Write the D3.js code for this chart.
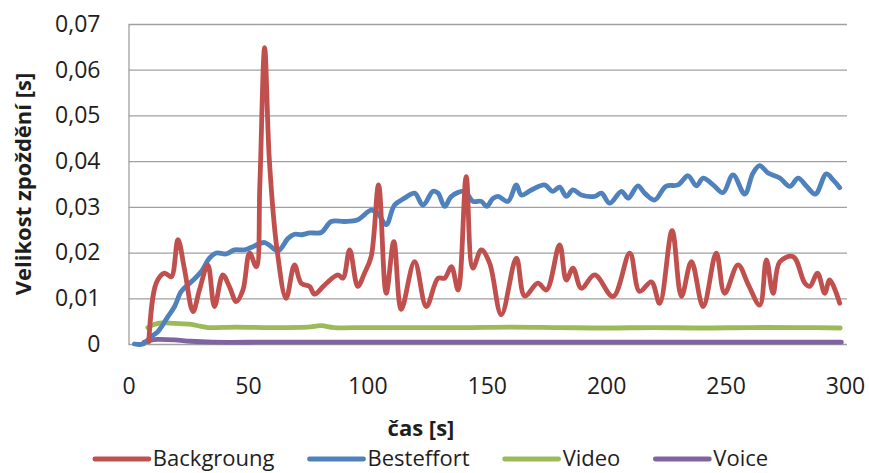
<!DOCTYPE html>
<html>
<head>
<meta charset="utf-8">
<script src="https://cdn.jsdelivr.net/npm/d3@7"></script>
<style>
    body { margin: 0; background: #fff; }
</style>
</head>
<body>
<div id="chart"></div>

<script>

    // Backgroung
    var bgTime = [8.5, 11.6, 15.1, 17.9, 20.7, 23.5, 27, 29.7, 33.2, 36, 39.5, 42.3, 45.1, 47.9, 50.7, 53.5, 55, 57, 59, 62.2,
        66, 69.5, 72.3, 75.8, 77.9, 82.1, 87.7, 89.8, 92.6, 96, 98.8, 101.6, 104.7, 107.9, 111.1, 114.2, 119.8, 124.7, 129.6, 132.4,
        135.2, 138, 141.4, 144.2, 147.7, 151.2, 156.1, 162.4, 165.9, 171.4, 175, 180.5, 183.3, 186.1, 189.6, 195.2, 202.9, 209.9, 214, 218.9,
        222.4, 227.6, 231.5, 235.7, 240.6, 246.1, 249.6, 255.2, 259.5, 264.3, 267.1, 269.9, 272.7, 278.3, 283.2, 285.3, 288.5, 291.5, 293.6, 297.8];
    var bgDelay = [0.0005, 0.0133, 0.0155, 0.0147, 0.0228, 0.0162, 0.0071, 0.0118, 0.0173, 0.0082, 0.0151, 0.0125, 0.0093, 0.0118, 0.0199, 0.0169, 0.035, 0.0648, 0.040, 0.0206,
        0.0100, 0.0173, 0.0133, 0.0126, 0.0109, 0.0129, 0.0151, 0.0144, 0.0206, 0.0126, 0.0155, 0.0191, 0.0348, 0.0111, 0.0224, 0.0076, 0.0180, 0.0082, 0.0144, 0.0144,
        0.0169, 0.0118, 0.0366, 0.0166, 0.0206, 0.0177, 0.0064, 0.0188, 0.0105, 0.0133, 0.0118, 0.0217, 0.0140, 0.0166, 0.0122, 0.0151, 0.0104, 0.0199, 0.0115, 0.0136,
        0.0089, 0.0248, 0.0104, 0.0180, 0.0082, 0.0199, 0.0111, 0.0173, 0.0130, 0.0085, 0.0184, 0.0111, 0.0180, 0.0191, 0.0133, 0.0126, 0.0155, 0.0111, 0.0140, 0.0089];

    // Besteffort
    var beTime = [2.5, 6, 9.5, 12.3, 16.5, 19.3, 22.1, 26.3, 30.4, 33.9, 36.7, 40.9, 44.4, 48.6, 52.1, 57, 62.6, 66.8, 69.5, 72.3,
        76, 80.7, 84.9, 90.5, 96, 101.6, 104.4, 107.9, 111.4, 115.6, 119.8, 123.3, 127.5, 129.6, 132.4, 135.2, 140.7, 144.2, 147.7, 150,
        152.5, 154.7, 158.9, 162.4, 164.5, 168.7, 174.2, 177.5, 180.5, 183.3, 186.1, 189.6, 195.2, 198, 201.5, 206.4, 209.2, 213.3, 216.1, 220.3,
        225, 230.1, 234.3, 237.8, 240.6, 244.8, 248.9, 253.1, 258, 261.5, 264.3, 267.8, 272.7, 276.9, 280.4, 283.9, 287.6, 292.2, 295, 297.8];
    var beDelay = [0, 0, 0.0016, 0.0027, 0.0060, 0.0082, 0.0115, 0.0136, 0.0158, 0.0188, 0.0199, 0.0197, 0.0206, 0.0206, 0.0213, 0.0222, 0.0204, 0.0231, 0.0240, 0.0239,
        0.0243, 0.0244, 0.0268, 0.0268, 0.0272, 0.0293, 0.0286, 0.0261, 0.0304, 0.0319, 0.0330, 0.0304, 0.0334, 0.0330, 0.0301, 0.0323, 0.0334, 0.0312, 0.0312, 0.0301,
        0.0318, 0.0323, 0.0312, 0.0348, 0.0326, 0.0337, 0.0348, 0.0334, 0.0343, 0.0323, 0.0337, 0.0326, 0.0323, 0.0330, 0.0308, 0.0334, 0.0319, 0.0346, 0.0330, 0.0315,
        0.0345, 0.0348, 0.0368, 0.0346, 0.0363, 0.0348, 0.0331, 0.0370, 0.0328, 0.0374, 0.0390, 0.0374, 0.0363, 0.0345, 0.0363, 0.0345, 0.0328, 0.0372, 0.0359, 0.0342];

    // Video
    var vidTime = [8.1, 11, 13.7, 19.3, 26.3, 30, 33.2, 45, 60, 75, 80.7, 86, 100, 120, 140, 160, 180, 200, 220, 240, 260, 280, 298];
    var vidDelay = [0.0036, 0.0043, 0.0046, 0.0045, 0.0043, 0.0039, 0.0036, 0.0037, 0.0036, 0.0037, 0.0040, 0.0036, 0.0036, 0.0036, 0.0036, 0.0037, 0.0036, 0.0035, 0.0036, 0.0035, 0.0036, 0.0036, 0.0035];

    // Voice
    var voiTime = [6.5, 9, 12.3, 19.3, 26, 35, 60, 100, 150, 200, 250, 298.5];
    var voiDelay = [0.0004, 0.0008, 0.0010, 0.0009, 0.0006, 0.0004, 0.0004, 0.0004, 0.0004, 0.0004, 0.0004, 0.0004];

    var seriesNames = ['Backgroung', 'Besteffort', 'Video', 'Voice'];
    var seriesColors = ['#C0504D', '#4F81BD', '#9BBB59', '#8064A2'];
    var xTicks = [0, 50, 100, 150, 200, 250, 300];
    var yTicks = [0, 0.01, 0.02, 0.03, 0.04, 0.05, 0.06, 0.07];

    var width = 869;
    var height = 473;
    var plotLeft = 128.5, plotRight = 847, plotTop = 24, plotBottom = 344;
    var font = "'Open Sans', sans-serif";
    var textColor = '#1e1e1e';

    var svg = d3.select('#chart').append('svg')
        .attr('width', width)
        .attr('height', height);

    svg.append('rect')
        .attr('width', width)
        .attr('height', height)
        .attr('fill', '#fff');

    var x = d3.scaleLinear().domain([0, 300]).range([plotLeft, 845]);
    var y = d3.scaleLinear().domain([0, 0.07]).range([plotBottom, plotTop]);

    var fmt = function(d) { return d === 0 ? '0' : d3.format('.2f')(d).replace('.', ','); };

    // y axis with gridlines
    var yAxis = svg.append('g')
        .attr('transform', 'translate(' + plotLeft + ',0)')
        .call(d3.axisLeft(y).tickValues(yTicks).tickFormat(fmt)
            .tickSize(-(plotRight - plotLeft)).tickSizeOuter(0).tickPadding(28));

    yAxis.select('.domain').attr('stroke', '#a0a0a0').attr('stroke-width', 1.3);
    yAxis.selectAll('.tick line').attr('stroke', '#a0a0a0').attr('stroke-width', 1.3);
    yAxis.selectAll('.tick text')
        .attr('font-family', font)
        .attr('font-size', 23)
        .attr('fill', textColor);

    // x axis
    var xAxis = svg.append('g')
        .attr('transform', 'translate(0,' + plotBottom + ')')
        .call(d3.axisBottom(x).tickValues(xTicks).tickSize(0).tickPadding(34));

    xAxis.select('.domain').remove();
    xAxis.selectAll('.tick text')
        .attr('font-family', font)
        .attr('font-size', 23)
        .attr('fill', textColor);

    // lines
    var line = d3.line()
        .x(function(d) { return x(d[0]); })
        .y(function(d) { return y(d[1]); })
        .curve(d3.curveCatmullRom.alpha(0.5));

    var seriesData = [
        d3.zip(bgTime, bgDelay),
        d3.zip(beTime, beDelay),
        d3.zip(vidTime, vidDelay),
        d3.zip(voiTime, voiDelay)
    ];

    // draw Voice first so that Backgroung ends up on top
    svg.append('g').selectAll('path')
        .data(seriesData.map(function(d, i) { return { values: d, i: i }; }).reverse())
        .enter()
        .append('path')
        .attr('d', function(d) { return line(d.values); })
        .attr('fill', 'none')
        .attr('stroke', function(d) { return seriesColors[d.i]; })
        .attr('stroke-width', 4.8)
        .attr('stroke-linejoin', 'round')
        .attr('stroke-linecap', 'round');

    // axis titles
    svg.append('text')
        .attr('transform', 'translate(31,' + ((plotTop + plotBottom) / 2) + ') rotate(-90)')
        .attr('text-anchor', 'middle')
        .attr('font-family', font)
        .attr('font-size', 22)
        .attr('font-weight', 'bold')
        .attr('fill', textColor)
        .text('Velikost zpoždění [s]');

    svg.append('text')
        .attr('x', 421)
        .attr('y', 436)
        .attr('text-anchor', 'middle')
        .attr('font-family', font)
        .attr('font-size', 22)
        .attr('font-weight', 'bold')
        .attr('fill', textColor)
        .text('čas [s]');

    // legend
    var legendY = 459;
    var sampleLength = 54;
    var textOffset = 4;
    var legend = svg.append('g').attr('class', 'legend');

    var entries = legend.selectAll('g.legend-entry')
        .data(seriesNames)
        .enter()
        .append('g')
        .attr('class', 'legend-entry');

    entries.append('line')
        .attr('x1', 0)
        .attr('x2', sampleLength)
        .attr('y1', legendY)
        .attr('y2', legendY)
        .attr('stroke', function(d, i) { return seriesColors[i]; })
        .attr('stroke-width', 4.8)
        .attr('stroke-linecap', 'round');

    entries.append('text')
        .attr('x', sampleLength + textOffset)
        .attr('y', legendY)
        .attr('dy', '0.33em')
        .attr('font-family', font)
        .attr('font-size', 22)
        .attr('fill', textColor)
        .text(function(d) { return d; });

    var widths = [];
    entries.each(function() { widths.push(sampleLength + textOffset + d3.select(this).select('text').node().getComputedTextLength()); });
    var gap = 35;
    var total = d3.sum(widths) + gap * (widths.length - 1);
    var pos = (width - total) / 2 - 3;
    entries.attr('transform', function(d, i) {
        var p = pos;
        pos += widths[i] + gap;
        return 'translate(' + p + ',0)';
    });

</script>
</body>
</html>
